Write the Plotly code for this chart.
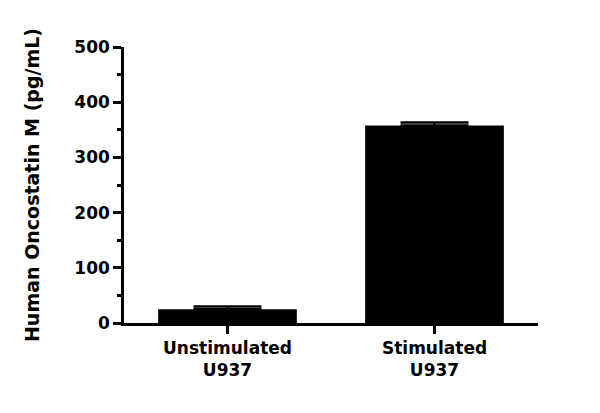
import plotly.graph_objects as go

categories = ["Unstimulated<br>U937", "Stimulated<br>U937"]
values = [25, 358]
errors = [5, 5]
y_ticks = [0, 100, 200, 300, 400, 500]

font_family = "DejaVu Sans"

fig = go.Figure()

fig.add_trace(go.Bar(
    x=categories,
    y=values,
    width=0.67,
    marker=dict(color="black", line=dict(width=0)),
    error_y=dict(type="data", array=errors, symmetric=False,
                 arrayminus=[0, 0], color="black", thickness=2.5, width=34),
))

# the page body adds 8px, so margins are shifted to keep the plot area in place
fig.update_layout(
    width=600,
    height=413,
    margin=dict(l=116, r=70, t=39, b=98),
    plot_bgcolor="white",
    paper_bgcolor="white",
    showlegend=False,
    font=dict(family=font_family, color="black", size=16, weight="bold"),
    xaxis=dict(
        range=[-0.5, 1.5],
        showline=True, linecolor="black", linewidth=2.5,
        ticks="outside", ticklen=8, tickwidth=2.5, tickcolor="black",
        tickfont=dict(size=17, weight="bold"),
        showgrid=False, zeroline=False,
    ),
    yaxis=dict(
        range=[0, 500],
        tickvals=y_ticks,
        showline=True, linecolor="black", linewidth=2.5,
        ticks="outside", ticklen=8, tickwidth=2.5, tickcolor="black",
        minor=dict(dtick=50, ticks="outside", ticklen=4, tickwidth=2.5, tickcolor="black"),
        tickfont=dict(size=17, weight="bold"),
        showgrid=False, zeroline=False,
        title=dict(text="Human Oncostatin M (pg/mL)", standoff=30,
                   font=dict(size=19, weight="bold")),
    ),
)

fig.write_html("out.html")
